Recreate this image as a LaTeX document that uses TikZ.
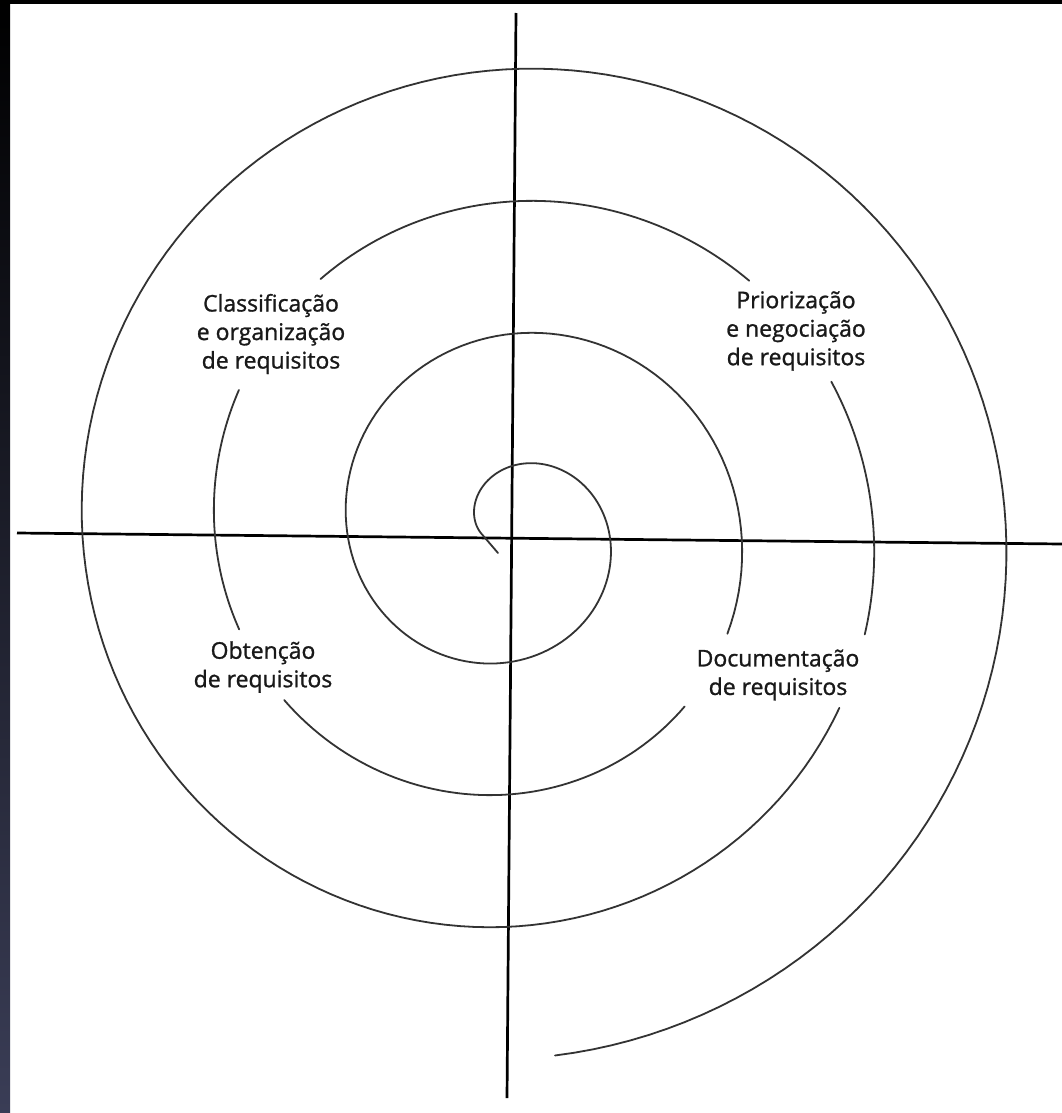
\documentclass[tikz,border=0pt]{standalone}
\usepackage{fontspec}
\setmainfont{Open Sans}
\newfontfamily\labfont[FakeBold=1.1]{Open Sans}
\begin{document}
\begin{tikzpicture}[x=1pt,y=-1pt,
  declare function={rr(\t)=164+0.36778*(180-\t);},
  spiral/.style={line width=1.8pt, draw=black!80, line cap=round},
  axisline/.style={line width=2.7pt, draw=black},
  phase/.style={font=\labfont\fontsize{23}{28.5}\selectfont, align=center, inner sep=0pt, text=black!90}]
\useasboundingbox (0,0) rectangle (1062,1113);
\fill[white] (0,0) rectangle (1062,1113);
\shade[top color=black, bottom color={rgb,255:red,58;green,61;blue,86}] (0,0) rectangle (10,1113);
\fill[black] (0,0) rectangle (1062,4.5);
% axes
\coordinate (vtop) at (516,13);
\coordinate (vbot) at (507,1098);
\coordinate (hleft) at (17,533);
\coordinate (hright) at (1062,544);
\draw[axisline] (vtop) -- (vbot);
\draw[axisline] (hleft) -- (hright);
% spiral
\coordinate (sstart) at (498,553);
\draw[spiral] plot[domain=-25.4:545, samples=220] ({511+rr(\x)*cos(\x)},{531-rr(\x)*sin(\x)}) -- (sstart);
\draw[spiral] plot[domain=-143.3:-45.3, samples=60] ({511+rr(\x)*cos(\x)},{531-rr(\x)*sin(\x)});
\draw[spiral] plot[domain=-207.4:-160.1, samples=40] ({511+rr(\x)*cos(\x)},{531-rr(\x)*sin(\x)});
\draw[spiral] plot[domain=-313.6:-232.9, samples=60] ({511+rr(\x)*cos(\x)},{531-rr(\x)*sin(\x)});
\draw[spiral] plot[domain=-376.3:-335, samples=40] ({511+rr(\x)*cos(\x)},{531-rr(\x)*sin(\x)});
\draw[spiral] plot[domain=-805.2:-388.3, samples=200] ({511+rr(\x)*cos(\x)},{531-rr(\x)*sin(\x)});
% labels
\node[phase] (cls) at (271,334) {Classificação\\e organização\\de requisitos};
\node[phase] (pri) at (796,331) {Priorização\\e negociação\\de requisitos};
\node[phase] (obt) at (263,667) {Obtenção\\de requisitos};
\node[phase] (doc) at (778,675) {Documentação\\de requisitos};
\end{tikzpicture}
\end{document}
